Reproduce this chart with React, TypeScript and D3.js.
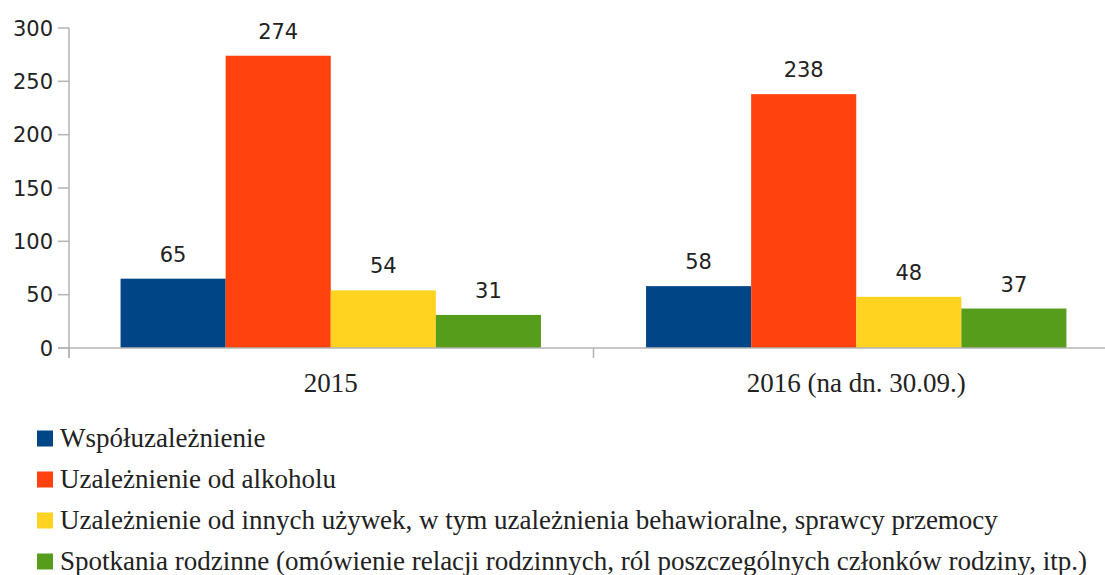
import React from "react";
import * as d3 from "d3";

const categories = ["2015", "2016 (na dn. 30.09.)"];
const seriesNames = [
  "Współuzależnienie",
  "Uzależnienie od alkoholu",
  "Uzależnienie od innych używek, w tym uzależnienia behawioralne, sprawcy przemocy",
  "Spotkania rodzinne (omówienie relacji rodzinnych, ról poszczególnych członków rodziny, itp.)",
];
const seriesColors = ["#004586", "#ff420e", "#ffd320", "#579d1c"];
const values2015 = [65, 274, 54, 31];
const values2016 = [58, 238, 48, 37];
const yTicks = [0, 50, 100, 150, 200, 250, 300];

const W = 1105;
const H = 575;
const axisX = 69;
const left = 68;
const bandW = 525.5;
const y0 = 348;
const yTop = 28;
const axisColor = "#b3b3b3";
const sans = "'DejaVu Sans', sans-serif";
const serif = "'Liberation Serif', 'Times New Roman', serif";

export default function App() {
  const data = [values2015, values2016];
  const x0 = d3.scaleBand<string>().domain(categories).range([left, left + bandW * categories.length]).padding(0);
  const bw = x0.bandwidth();
  const x1 = d3
    .scaleBand<number>()
    .domain(d3.range(seriesNames.length))
    .range([bw * 0.1, bw * 0.9])
    .padding(0);
  const y = d3.scaleLinear().domain([0, 300]).range([y0, yTop]);

  return (
    <svg width={W} height={H} style={{ position: "absolute", left: 0, top: 0, background: "#fff" }}>
      {categories.map((c, ci) => (
        <g key={c} transform={`translate(${x0(c)},0)`}>
          {data[ci].map((v, si) => (
            <rect
              key={si}
              x={x1(si)}
              y={y(v)}
              width={x1.bandwidth()}
              height={y0 - y(v)}
              fill={seriesColors[si]}
            />
          ))}
          {data[ci].map((v, si) => (
            <text
              key={"l" + si}
              x={(x1(si) as number) + x1.bandwidth() / 2}
              y={y(v) - 17}
              textAnchor="middle"
              fontFamily={sans}
              fontSize={21}
              fill="#222"
            >
              {v}
            </text>
          ))}
        </g>
      ))}
      <line x1={axisX} x2={axisX} y1={yTop} y2={y0 + 10} stroke={axisColor} strokeWidth={1.5} />
      {yTicks.map((t) => (
        <g key={t}>
          <line x1={axisX - 11} x2={axisX} y1={y(t)} y2={y(t)} stroke={axisColor} strokeWidth={1.5} />
          <text
            x={axisX - 16}
            y={y(t)}
            dy="0.36em"
            textAnchor="end"
            fontFamily={sans}
            fontSize={21}
            fill="#222"
          >
            {t}
          </text>
        </g>
      ))}
      <line x1={axisX - 11} x2={W} y1={y0} y2={y0} stroke={axisColor} strokeWidth={1.5} />
      {categories.map((c, ci) => {
        const tx = ci === 0 ? axisX : (x0(c) as number);
        return (
          <line key={"t" + c} x1={tx} x2={tx} y1={y0} y2={y0 + 10} stroke={axisColor} strokeWidth={1.5} />
        );
      })}
      {categories.map((c) => (
        <text
          key={"c" + c}
          x={(x0(c) as number) + bw / 2}
          y={392}
          textAnchor="middle"
          fontFamily={serif}
          fontSize={27}
          fill="#222"
        >
          {c}
        </text>
      ))}
      {seriesNames.map((n, i) => {
        const cy = 438.5 + i * 41;
        return (
          <g key={n}>
            <rect x={37} y={cy - 8} width={16} height={16} fill={seriesColors[i]} />
            <text x={60} y={cy} dy="0.3em" fontFamily={serif} fontSize={27} fill="#222">
              {n}
            </text>
          </g>
        );
      })}
    </svg>
  );
}
